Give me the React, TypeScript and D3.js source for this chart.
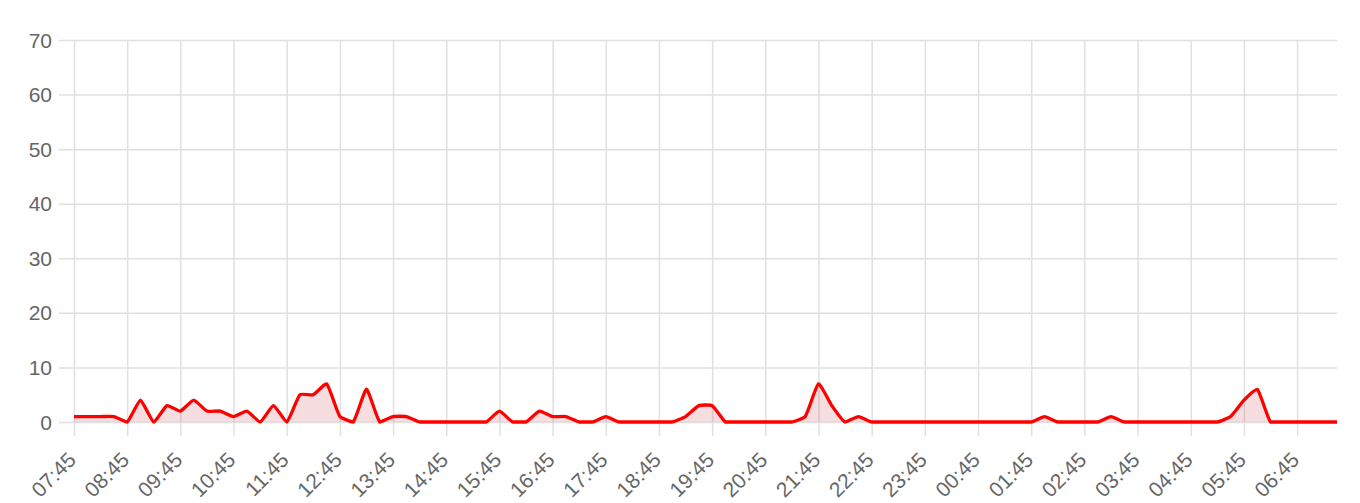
import React, { useEffect, useRef } from 'react';
import * as d3 from 'd3';

/* ── Data ─────────────────────────────────────────────────────────── */
const slots: string[] = [
  '07:45', '08:00', '08:15', '08:30', '08:45', '09:00', '09:15', '09:30', '09:45', '10:00', '10:15', '10:30',
  '10:45', '11:00', '11:15', '11:30', '11:45', '12:00', '12:15', '12:30', '12:45', '13:00', '13:15', '13:30',
  '13:45', '14:00', '14:15', '14:30', '14:45', '15:00', '15:15', '15:30', '15:45', '16:00', '16:15', '16:30',
  '16:45', '17:00', '17:15', '17:30', '17:45', '18:00', '18:15', '18:30', '18:45', '19:00', '19:15', '19:30',
  '19:45', '20:00', '20:15', '20:30', '20:45', '21:00', '21:15', '21:30', '21:45', '22:00', '22:15', '22:30',
  '22:45', '23:00', '23:15', '23:30', '23:45', '00:00', '00:15', '00:30', '00:45', '01:00', '01:15', '01:30',
  '01:45', '02:00', '02:15', '02:30', '02:45', '03:00', '03:15', '03:30', '03:45', '04:00', '04:15', '04:30',
  '04:45', '05:00', '05:15', '05:30', '05:45', '06:00', '06:15', '06:30', '06:45', '07:00', '07:15', '07:30',
];

const counts: number[] = [
  1, 1, 1, 1, 0, 4, 0, 3, 2, 4, 2, 2,
  1, 2, 0, 3, 0, 5, 5, 7, 1, 0, 6, 0,
  1, 1, 0, 0, 0, 0, 0, 0, 2, 0, 0, 2,
  1, 1, 0, 0, 1, 0, 0, 0, 0, 0, 1, 3,
  3, 0, 0, 0, 0, 0, 0, 1, 7, 3, 0, 1,
  0, 0, 0, 0, 0, 0, 0, 0, 0, 0, 0, 0,
  0, 1, 0, 0, 0, 0, 1, 0, 0, 0, 0, 0,
  0, 0, 0, 1, 4, 6, 0, 0, 0, 0, 0, 0,
];

const yTicks: number[] = [0, 10, 20, 30, 40, 50, 60, 70];
// only every hour gets a label / grid line
const hourLabels: string[] = slots.filter((_, i) => i % 4 === 0);

const LINE = '#ff0000';
const FILL = 'rgba(190, 30, 45, 0.15)';
const GRID = '#e0e0e0';
const TEXT = '#666666';
const FONT = '"Liberation Sans", Arial, Helvetica, sans-serif';
const TENSION = 0.15;

type Pt = { x: number; y: number };

// Chart.js-like spline: control points from neighbours, capped to the plot area
function splinePath(pts: Pt[], top: number, bottom: number, left: number, right: number, closeTo?: number) {
  const cps = pts.map((cur, i) => {
    const prev = pts[i - 1] ?? cur;
    const next = pts[i + 1] ?? cur;
    const d01 = Math.hypot(cur.x - prev.x, cur.y - prev.y);
    const d12 = Math.hypot(next.x - cur.x, next.y - cur.y);
    let s01 = d01 / (d01 + d12);
    let s12 = d12 / (d01 + d12);
    if (isNaN(s01)) s01 = 0;
    if (isNaN(s12)) s12 = 0;
    const fa = TENSION * s01;
    const fb = TENSION * s12;
    const cap = (p: Pt) => ({
      x: Math.max(left, Math.min(right, p.x)),
      y: Math.max(top, Math.min(bottom, p.y)),
    });
    return {
      before: cap({ x: cur.x - fa * (next.x - prev.x), y: cur.y - fa * (next.y - prev.y) }),
      after: cap({ x: cur.x + fb * (next.x - prev.x), y: cur.y + fb * (next.y - prev.y) }),
    };
  });
  const p = d3.path();
  p.moveTo(pts[0].x, pts[0].y);
  for (let i = 1; i < pts.length; i++) {
    const a = cps[i - 1].after;
    const b = cps[i].before;
    p.bezierCurveTo(a.x, a.y, b.x, b.y, pts[i].x, pts[i].y);
  }
  if (closeTo !== undefined) {
    p.lineTo(pts[pts.length - 1].x, closeTo);
    p.lineTo(pts[0].x, closeTo);
    p.closePath();
  }
  return p.toString();
}

export default function App() {
  const svgRef = useRef<SVGSVGElement>(null);

  useEffect(() => {
    if (!svgRef.current) return;
    const W = 1360;
    const H = 503;
    const svg = d3.select(svgRef.current);
    svg.selectAll('*').remove();

    const mg = { top: 40, right: 23, bottom: 81, left: 74 };

    const x = d3.scalePoint<string>()
      .domain(slots)
      .range([mg.left, W - mg.right]);

    const y = d3.scaleLinear()
      .domain([0, 70])
      .range([H - mg.bottom, mg.top]);

    /* ── Grid ─────────────────────────────────────────────────────── */
    const grid = svg.append('g');

    grid.selectAll('.hline')
      .data(yTicks)
      .enter()
      .append('line')
      .attr('x1', mg.left - 15)
      .attr('x2', W - mg.right)
      .attr('y1', d => y(d) + 0.5)
      .attr('y2', d => y(d) + 0.5)
      .attr('stroke', GRID)
      .attr('stroke-width', 1.5);

    grid.selectAll('.vline')
      .data(hourLabels)
      .enter()
      .append('line')
      .attr('x1', d => x(d)! + 0.5)
      .attr('x2', d => x(d)! + 0.5)
      .attr('y1', mg.top)
      .attr('y2', H - mg.bottom + 14)
      .attr('stroke', GRID)
      .attr('stroke-width', 1.5);

    /* ── Y labels ─────────────────────────────────────────────────── */
    svg.append('g')
      .selectAll('text')
      .data(yTicks)
      .enter()
      .append('text')
      .attr('x', mg.left - 22)
      .attr('y', d => y(d))
      .attr('dy', '0.36em')
      .attr('text-anchor', 'end')
      .attr('fill', TEXT)
      .attr('font-size', '21px')
      .attr('font-family', FONT)
      .text(d => d);

    /* ── X labels (rotated) ───────────────────────────────────────── */
    svg.append('g')
      .selectAll('text')
      .data(hourLabels)
      .enter()
      .append('text')
      .attr('transform', d => `translate(${x(d)! - 2},${H - mg.bottom + 34}) rotate(-45)`)
      .attr('dy', '0.36em')
      .attr('text-anchor', 'end')
      .attr('fill', TEXT)
      .attr('font-size', '21px')
      .attr('font-family', FONT)
      .text(d => d);

    /* ── Area + line ─────────────────────────────────────────────── */
    const pts: Pt[] = counts.map((v, i) => ({ x: x(slots[i])!, y: y(v) }));
    const [yb, yt] = y.range();

    svg.append('path')
      .attr('d', splinePath(pts, yt, yb, mg.left, W - mg.right, y(0)))
      .attr('fill', FILL);

    svg.append('path')
      .attr('d', splinePath(pts, yt, yb, mg.left, W - mg.right))
      .attr('fill', 'none')
      .attr('stroke', LINE)
      .attr('stroke-width', 3.3)
      .attr('stroke-linejoin', 'round');
  }, []);

  return (
    <div style={{ position: 'absolute', left: 0, top: 0, width: 1360, height: 503, background: '#fff' }}>
      <svg ref={svgRef} width={1360} height={503} style={{ display: 'block' }} />
    </div>
  );
}
